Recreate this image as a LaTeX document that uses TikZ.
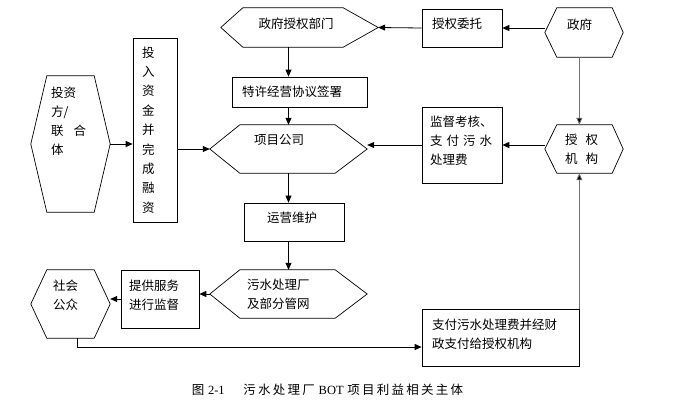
\documentclass[tikz,border=0pt]{standalone}
\usepackage{fontspec}
\setmainfont{Liberation Serif}
\newfontfamily\zh{Noto Sans CJK SC}
\newfontfamily\zhcap{Noto Sans CJK SC}[LetterSpace=18]
\usetikzlibrary{arrows.meta}

% hexagon outline round a named node: name, left spike, right spike
\newcommand{\Hexa}[3]{%
  \draw[forma] (#1.west) -- ([xshift=#2pt]#1.north west) -- ([xshift=-#3pt]#1.north east)
    -- (#1.east) -- ([xshift=-#3pt]#1.south east) -- ([xshift=#2pt]#1.south west) -- cycle;}

\begin{document}
\begin{tikzpicture}[x=1pt,y=-1pt]
    \tikzset{forma/.style = {draw=black,line width=0.7pt}}
    \tikzset{caja/.style = {shape=rectangle,draw,line width=0.7pt,inner ysep=0pt,align=left,font=\zh\fontsize{12.5}{19}\selectfont}}
    \tikzset{hexa/.style = {shape=rectangle,inner ysep=0pt,align=left,font=\zh\fontsize{12.5}{19}\selectfont}}
    \tikzset{arriba/.style = {text height=10pt,text depth=#1}}
    \tikzset{flecha/.style = {-{Triangle[length=7pt,width=6pt]},line width=0.8pt,black}}
    \tikzset{gris/.style = {flecha,draw=black!55,-{Triangle[length=7pt,width=6pt,fill=black]}}}

    \useasboundingbox (0,0) rectangle (674,407);

    % top row
    \node[hexa,arriba=7.5pt,minimum width=157,minimum height=39,inner xsep=37.5,text width=82] (bumen) at (299.5,27.5) {政府授权部门};
    \node[caja,arriba=8.5pt,minimum width=80,minimum height=38,inner xsep=10,text width=60] (weituo) at (462,28) {授权委托};
    \node[hexa,arriba=15.5pt,minimum width=78,minimum height=49,inner xsep=22,text width=34] (zhengfu) at (584,32.5) {政府};

    \node[caja,minimum width=135,minimum height=30,inner xsep=10,text width=115] (xieyi) at (299.5,92) {特许经营协议签署};

    % middle row
    \node[hexa,arriba=102.5pt,minimum width=79,minimum height=136,inner xsep=20,text width=39] (touzi) at (70.5,144) {投资\\方/\\联\hspace{10pt}合\\体};
    \node[caja,minimum width=44,minimum height=184,inner xsep=9,text width=26,font=\zh\fontsize{12.5}{19.4}\selectfont] (rongzi) at (155,130)
        {投\\入\\资\\金\\并\\完\\成\\融\\资};
    \node[hexa,arriba=18.5pt,minimum width=157,minimum height=48,inner xsep=44,text width=69] (gongsi) at (288.5,149) {项目公司};
    \node[caja,arriba=46.5pt,minimum width=80,minimum height=76,inner xsep=8,text width=64] (jiandu) at (462,145)
        {监督考核、\\支\hspace{4pt}付\hspace{4pt}污\hspace{4pt}水\\处理费};
    \node[hexa,minimum width=78,minimum height=48,inner xsep=20,text width=38] (jigou) at (584,149) {授\hspace{8pt}权\\机\hspace{8pt}构};

    \node[caja,arriba=8.5pt,minimum width=100,minimum height=38,inner xsep=23,text width=54] (yunying) at (294,222) {运营维护};

    % bottom row
    \node[hexa,arriba=36.5pt,minimum width=79,minimum height=68,inner xsep=22,text width=35] (gongzhong) at (70.5,304) {社会\\公众};
    \node[caja,arriba=26.5pt,minimum width=78,minimum height=58,inner xsep=8,text width=62] (fuwu) at (160,299) {提供服务\\进行监督};
    \node[hexa,minimum width=157,minimum height=48,inner xsep=37,text width=83] (wushui) at (288.5,294) {污水处理厂\\及部分管网};
    \node[caja,arriba=26.5pt,minimum width=157,minimum height=57,inner xsep=10,text width=137] (zhifu) at (500.5,337.5)
        {支付污水处理费并经财\\政支付给授权机构};

    \Hexa{bumen}{22}{35}
    \Hexa{zhengfu}{12}{11}
    \Hexa{touzi}{16}{16}
    \Hexa{gongsi}{30}{32}
    \Hexa{jigou}{12}{11}
    \Hexa{gongzhong}{16}{16}
    \Hexa{wushui}{30}{32}

    % connectors
    \draw[flecha] (weituo.east -| zhengfu.west) -- (weituo.east);
    \draw[flecha] (weituo.west) -- (bumen.east);
    \draw[flecha] (bumen.south -| gongsi) -- (xieyi.north -| gongsi);
    \draw[flecha] (xieyi.south -| gongsi) -- (gongsi.north);
    \draw[flecha] (touzi.east) -- (touzi.east -| rongzi.west);
    \draw[flecha] (gongsi.west -| rongzi.east) -- (gongsi.west);
    \draw[flecha] (jiandu.east -| jigou.west) -- (jiandu.east);
    \draw[flecha] (jiandu.west) -- (jiandu.west -| gongsi.east);
    \draw[gris] (zhengfu.south -| zhifu.east) -- (jigou.north -| zhifu.east);
    \draw[flecha] (gongsi.south) -- (yunying.north -| gongsi);
    \draw[flecha] (yunying.south -| gongsi) -- (wushui.north);
    \draw[flecha] (wushui.west) -- (wushui.west -| fuwu.east);
    \draw[flecha] (fuwu.west) -- (fuwu.west -| gongzhong.east);
    \draw[flecha] ([xshift=6.5pt]gongzhong.south) |- ([yshift=-9.5pt]zhifu.west);
    \draw[gris] (zhifu.north east) -- (jigou.south -| zhifu.east);

    \node[font=\zhcap\fontsize{12.5}{14}\selectfont] (pie) at (327.5,390)
        {图\hspace{0.3em}{\rmfamily 2-1}\hspace{1.5em}污水处理厂\hspace{0.3em}{\rmfamily BOT}\hspace{0.3em}项目利益相关主体};
\end{tikzpicture}
\end{document}
